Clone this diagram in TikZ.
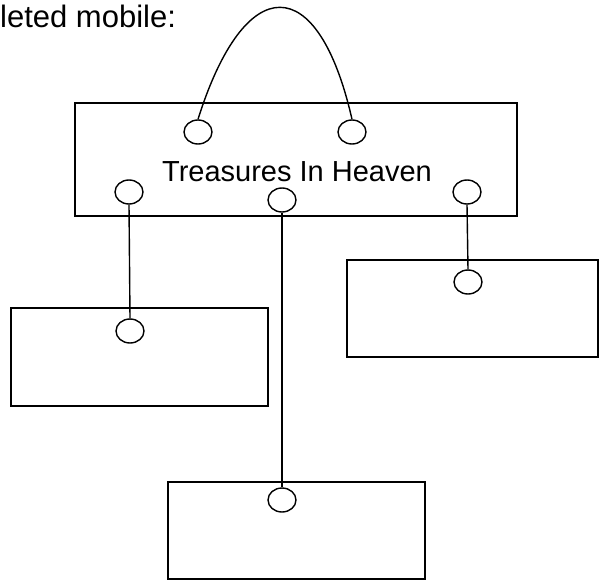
\documentclass[tikz,border=0pt]{standalone}
\usepackage{fontspec}
\setmainfont{Liberation Sans}
\usepackage{tikz}
\usetikzlibrary{shapes,positioning,calc}

\begin{document}
\begin{tikzpicture}[x=1pt,y=-1pt,
    card/.style={draw, rectangle, line width=1.7pt, inner sep=0pt},
    ring/.style={draw, ellipse, line width=1.4pt, inner sep=0pt, minimum width=28pt, minimum height=24pt},
    string/.style={line width=1.4pt}]
    \useasboundingbox (0,0) rectangle (599,581);
    \fontsize{29}{34}\selectfont

    \node[anchor=base west, inner sep=0pt, font=\fontsize{31}{36}\selectfont] (caption) at (0,27) {leted mobile:};

    % boxes
    \node[card, minimum width=442pt, minimum height=113pt] (top) at (296,159.5) {};
    \node[card, minimum width=257pt, minimum height=98pt] (left) at (139.5,357) {};
    \node[card, minimum width=251pt, minimum height=97pt] (right) at (472.5,308.5) {};
    \node[card, minimum width=257pt, minimum height=97pt] (bottom) at (296.5,530.5) {};
    \node (title) at (297,172) {Treasures In Heaven};

    % rings
    \node[ring] (hookL) at (198,132) {};
    \node[ring] (hookR) at (352,132) {};
    \node[ring] (outL) at (129,192) {};
    \node[ring] (outM) at (282,200) {};
    \node[ring] (outR) at (467,192) {};
    \node[ring] (inL) at (130,331) {};
    \node[ring] (inR) at (468,282) {};
    \node[ring] (inB) at (282,500) {};

    % hanger
    \draw[string] (hookL.north) .. controls (245,-30) and (318,-30) .. (hookR.north);
    % strings
    \draw[string] (outL.south) -- (inL.north);
    \draw[string] (outR.south) -- (inR.north);
    \draw[string] (outM.south) -- (inB.north);
\end{tikzpicture}
\end{document}
